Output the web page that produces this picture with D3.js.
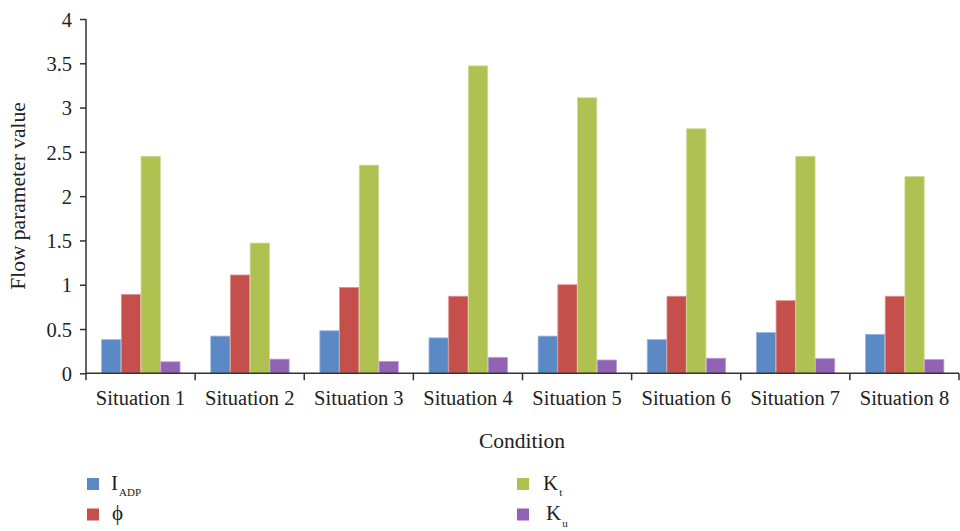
<!DOCTYPE html>
<html>
<head>
<meta charset="utf-8">
<script src="https://cdn.jsdelivr.net/npm/d3@7/dist/d3.min.js"></script>
<style>
  html, body { margin: 0; padding: 0; background: #fff; }
  svg { display: block; }
</style>
</head>
<body>
<svg id="chart" width="960" height="531" font-family="Liberation Serif"></svg>
<script>
const categories = ["Situation 1","Situation 2","Situation 3","Situation 4","Situation 5","Situation 6","Situation 7","Situation 8"];
const seriesKeys = ["IADP","phi","Kt","Ku"];
const IADP = [0.38, 0.42, 0.48, 0.40, 0.42, 0.38, 0.46, 0.44];
const phi  = [0.89, 1.11, 0.97, 0.87, 1.00, 0.87, 0.82, 0.87];
const Kt   = [2.45, 1.47, 2.35, 3.47, 3.11, 2.76, 2.45, 2.22];
const Ku   = [0.13, 0.16, 0.135, 0.18, 0.15, 0.17, 0.165, 0.155];
const yTicks = [0, 0.5, 1, 1.5, 2, 2.5, 3, 3.5, 4];
const yTickLabels = ["0","0.5","1","1.5","2","2.5","3","3.5","4"];
const colors = {IADP: "#5B89C6", phi: "#C44F4B", Kt: "#AFC151", Ku: "#9263B4"};
const strokes = {IADP: "#9DB6DD", phi: "#DB9593", Kt: "#CBD78E", Ku: "#BCA0D0"};
const FONT = "Liberation Serif";

const valuesByKey = {IADP, phi, Kt, Ku};
const data = categories.map((c, i) => ({cat: c, vals: seriesKeys.map(k => ({key: k, value: valuesByKey[k][i]}))}));

const svg = d3.select("#chart");
const mLeft = 86, mRight = 959, mTop = 19, mBottom = 373.3;

const x = d3.scaleBand().domain(categories).range([mLeft, mRight]).paddingInner(0).paddingOuter(0);
const x1 = d3.scaleBand().domain(seriesKeys).range([0, x.bandwidth()]).paddingInner(0).paddingOuter(0.766);
const y = d3.scaleLinear().domain([0, 4]).range([mBottom, mTop]);

// bars
const g = svg.append("g");
g.selectAll("g.grp").data(data).join("g").attr("class","grp")
  .attr("transform", d => `translate(${x(d.cat)},0)`)
  .selectAll("rect").data(d => d.vals).join("rect")
  .attr("x", d => x1(d.key) + 0.5)
  .attr("width", x1.bandwidth() - 0.5)
  .attr("y", d => y(d.value))
  .attr("height", d => mBottom - y(d.value))
  .attr("fill", d => colors[d.key])
  .attr("stroke", d => strokes[d.key])
  .attr("stroke-width", 0.8);

// y axis
const yAxis = d3.axisLeft(y).tickValues(yTicks).tickFormat((d, i) => yTickLabels[i]).tickSize(6).tickPadding(8);
const ya = svg.append("g").attr("transform", `translate(${mLeft},0)`).call(yAxis)
  .attr("font-family", FONT).attr("font-size", 20.5);
ya.select(".domain").attr("stroke", "#333").attr("stroke-width", 1.5).attr("d", `M0,${mTop}V${mBottom}`);
ya.selectAll(".tick line").attr("stroke", "#333").attr("stroke-width", 1.5);
ya.selectAll(".tick text").style("font-family", FONT).style("font-size", "20.5px").attr("fill", "#222").attr("dy", "0.35em");

// x axis
const xAxis = d3.axisBottom(x).tickSize(0).tickPadding(17);
const xa = svg.append("g").attr("transform", `translate(0,${mBottom})`).call(xAxis)
  .attr("font-family", FONT).attr("font-size", 20.5);
xa.select(".domain").attr("stroke", "#333").attr("stroke-width", 1.5).attr("d", `M${mLeft},0H${mRight}`);
xa.selectAll(".tick text").style("font-family", FONT).style("font-size", "20.5px").attr("fill", "#222");
const bounds = categories.map(c => x(c)).concat([x.range()[1]]);
xa.selectAll("line.bnd").data(bounds).join("line").attr("class","bnd")
  .attr("x1", d => d).attr("x2", d => d).attr("y1", 0).attr("y2", 7)
  .attr("stroke", "#333").attr("stroke-width", 1.5);

// axis titles
svg.append("text").attr("transform", "translate(25,196) rotate(-90)")
  .attr("text-anchor", "middle").style("font-family", FONT).style("font-size", "21.5px").attr("fill", "#222").text("Flow parameter value");
svg.append("text").attr("x", 522).attr("y", 448)
  .attr("text-anchor", "middle").style("font-family", FONT).style("font-size", "21.5px").attr("fill", "#222").text("Condition");

// legend
const legendItems = [
  {key: "IADP", main: "I", sub: "ADP", x: 87, y: 478, tx: 111},
  {key: "phi", main: "ϕ", sub: "", x: 87, y: 508.5, tx: 112},
  {key: "Kt", main: "K", sub: "t", x: 517, y: 478, tx: 543},
  {key: "Ku", main: "K", sub: "u", x: 517, y: 508.5, tx: 546}
];
const lg = svg.append("g");
legendItems.forEach(it => {
  lg.append("rect").attr("x", it.x).attr("y", it.y).attr("width", 12).attr("height", 12).attr("fill", colors[it.key]);
  const t = lg.append("text").attr("x", it.tx).attr("y", it.y + 11.5)
    .style("font-family", FONT).style("font-size", "21px").attr("fill", "#222");
  t.append("tspan").text(it.main);
  if (it.sub) t.append("tspan").attr("dy", 6.5).attr("dx", 1).style("font-size", "11px").text(it.sub);
});
</script>
</body>
</html>
